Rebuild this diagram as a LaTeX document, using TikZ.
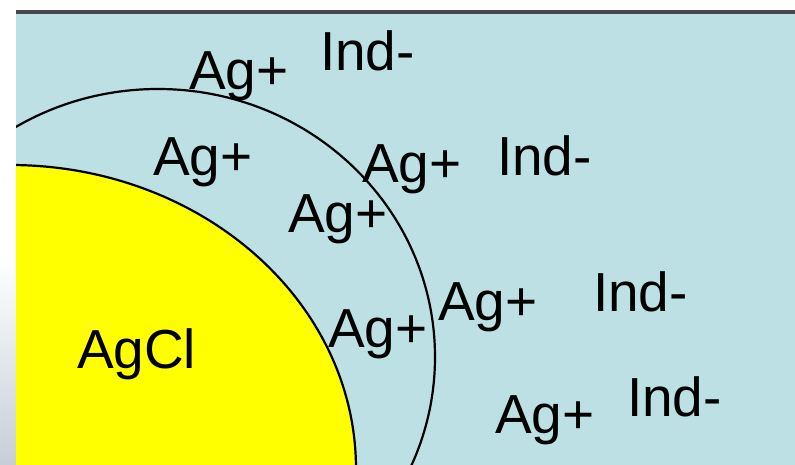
\documentclass[tikz,border=0pt]{standalone}
\usepackage{fontspec}
\setmainfont{Liberation Sans}
\definecolor{bgblue}{RGB}{188,224,227}
\definecolor{topline}{RGB}{70,72,74}
\definecolor{stripgray}{RGB}{200,206,214}
\definecolor{agclyellow}{RGB}{255,255,0}
\begin{document}
\begin{tikzpicture}[x=1pt,y=-1pt,
  ion/.style={anchor=base west,inner sep=0pt,outer sep=0pt,font=\fontsize{55}{60}\selectfont,text=black},
  rim/.style={draw=black,line width=2.2pt}]
\useasboundingbox (0,0) rectangle (795,465);
\fill[white] (0,0) rectangle (795,465);
\shade[top color=white,bottom color=stripgray] (0,258) rectangle (16,465);
\fill[topline] (16,10.5) rectangle (795,14.5);
\fill[bgblue] (16,14.5) rectangle (795,465);
\begin{scope}
  \clip (16,14.5) rectangle (795,465);
  \filldraw[fill=agclyellow,rim] (10,469) ellipse [x radius=346pt,y radius=304pt];
  \draw[rim] (158,357) ellipse [x radius=277pt,y radius=268pt];
\end{scope}
\node[ion] (a1) at (189,90) {Ag+};
\node[ion] (i1) at (320,71) {Ind-};
\node[ion] (a2) at (153,176) {Ag+};
\node[ion] (a3) at (362,183) {Ag+};
\node[ion] (i2) at (497,176) {Ind-};
\node[ion] (a4) at (288,233) {Ag+};
\node[ion] (a5) at (438,320) {Ag+};
\node[ion] (i3) at (593,311) {Ind-};
\node[ion] (a6) at (328,347) {Ag+};
\node[ion] (cl) at (77,368) {AgCl};
\node[ion] (a7) at (495,433) {Ag+};
\node[ion] (i4) at (627,416) {Ind-};
\end{tikzpicture}
\end{document}
